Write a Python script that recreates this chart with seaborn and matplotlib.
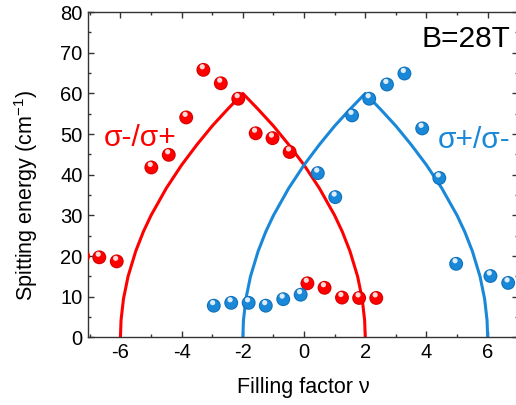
import numpy as np
import pandas as pd
import matplotlib
matplotlib.use('Agg')
import matplotlib.pyplot as plt
import matplotlib.transforms as mtransforms
import seaborn as sns

# measured points (filling factor, splitting energy)
red_x = [-7.22, -6.69, -6.12, -4.99, -4.42, -3.85, -3.29, -2.72, -2.15, -1.58, -1.03, -0.47, 0.11, 0.67, 1.24, 1.80, 2.36]
red_y = [20.0, 19.7, 18.7, 41.8, 44.9, 54.1, 65.8, 62.5, 58.7, 50.2, 49.0, 45.6, 13.3, 12.2, 9.8, 9.7, 9.7]
blue_x = [-2.95, -2.38, -1.81, -1.25, -0.68, -0.11, 0.45, 1.02, 1.57, 2.13, 2.71, 3.28, 3.86, 4.42, 4.97, 6.09, 6.67]
blue_y = [7.8, 8.5, 8.5, 7.8, 9.4, 10.5, 40.4, 34.5, 54.6, 58.7, 62.2, 64.9, 51.4, 39.2, 18.1, 15.1, 13.4]

# model curves
red_curve_x = [-6, -5.98, -5.9, -5.75, -5.5, -5.25, -5, -4.5, -4, -3.5, -3, -2.5, -2,
               -1.5, -1, -0.5, 0, 0.5, 1, 1.25, 1.5, 1.75, 1.9, 1.98, 2]
red_curve_y = [0, 4.2, 9.5, 15, 21.2, 26, 30, 36.7, 42.4, 47.4, 52, 56.1, 60,
               56.1, 52, 47.4, 42.4, 36.7, 30, 26, 21.2, 15, 9.5, 4.2, 0]
blue_curve_x = [-2, -1.98, -1.9, -1.75, -1.5, -1.25, -1, -0.5, 0, 0.5, 1, 1.5, 2,
                2.5, 3, 3.5, 4, 4.5, 5, 5.25, 5.5, 5.75, 5.9, 5.98, 6]
blue_curve_y = [0, 4.2, 9.5, 15, 21.2, 26, 30, 36.7, 42.4, 47.4, 52, 56.1, 60,
                56.1, 52, 47.4, 42.4, 36.7, 30, 26, 21.2, 15, 9.5, 4.2, 0]

red = '#ff0000'
blue = '#1a88d8'

sns.set_style('ticks')
plt.rcParams['font.family'] = ['Liberation Sans', 'DejaVu Sans']
plt.rcParams['mathtext.fontset'] = 'custom'
plt.rcParams['mathtext.rm'] = 'Liberation Sans'
plt.rcParams['axes.unicode_minus'] = False
plt.rcParams['text.color'] = 'black'
plt.rcParams['axes.labelcolor'] = 'black'
plt.rcParams['xtick.labelcolor'] = 'black'
plt.rcParams['ytick.labelcolor'] = 'black'

fig = plt.figure(figsize=(5.16, 4.05), dpi=100)
ax = fig.add_axes([0.1711, 0.1669, 0.8333, 0.8032])

sns.lineplot(x=red_curve_x, y=red_curve_y, sort=False, estimator=None, color=red, lw=2.2, ax=ax)
sns.lineplot(x=blue_curve_x, y=blue_curve_y, sort=False, estimator=None, color=blue, lw=2.2, ax=ax)

# spheres: base dot + lighter cap + small white highlight
hl = mtransforms.ScaledTranslation(-0.8 / 72, 2.2 / 72, fig.dpi_scale_trans)
for xs, ys, c, dark in [(red_x, red_y, red, '#d40000'),
                        (blue_x, blue_y, blue, '#0f6fb8')]:
    sns.scatterplot(x=xs, y=ys, s=100, color=dark, edgecolor='none', ax=ax, zorder=3)
    sns.scatterplot(x=xs, y=ys, s=72, color=c, edgecolor='none', ax=ax, zorder=4)
    pts = ax.scatter(xs, ys, s=14, color='white', alpha=0.85, edgecolor='none', zorder=5)
    pts.set_offset_transform(ax.transData + hl)

ax.set_xlim(-7.05, 7.0)
ax.set_ylim(0, 80)
ax.set_xticks([-6, -4, -2, 0, 2, 4, 6])
ax.set_xticks(np.arange(-7, 8, 1), minor=True)
ax.set_yticks(np.arange(0, 81, 10))
ax.set_yticks(np.arange(0, 81, 5), minor=True)
ax.tick_params(which='both', direction='in', top=True, right=True, labelsize=14.5,
               color='#333333', width=1.0)
ax.tick_params(which='major', length=4.5, pad=4)
ax.tick_params(which='minor', length=2.2)
for sp in ax.spines.values():
    sp.set_visible(True)
    sp.set_color('#333333')
    sp.set_linewidth(1.0)

ax.set_xlabel('Filling factor ν', fontsize=15.5, labelpad=11)
ax.set_ylabel('Spitting energy (cm$^{-1}$)', fontsize=15.5)
ax.yaxis.set_label_coords(-0.112, 0.435)

ax.text(-6.55, 49, 'σ-/σ+', color=red, fontsize=21.5, ha='left', va='center')
ax.text(6.73, 48.5, 'σ+/σ-', color=blue, fontsize=21.5, ha='right', va='center')
ax.text(6.75, 73.4, 'B=28T', color='black', fontsize=21.5, ha='right', va='center')

fig.savefig('out.png', dpi=100)
